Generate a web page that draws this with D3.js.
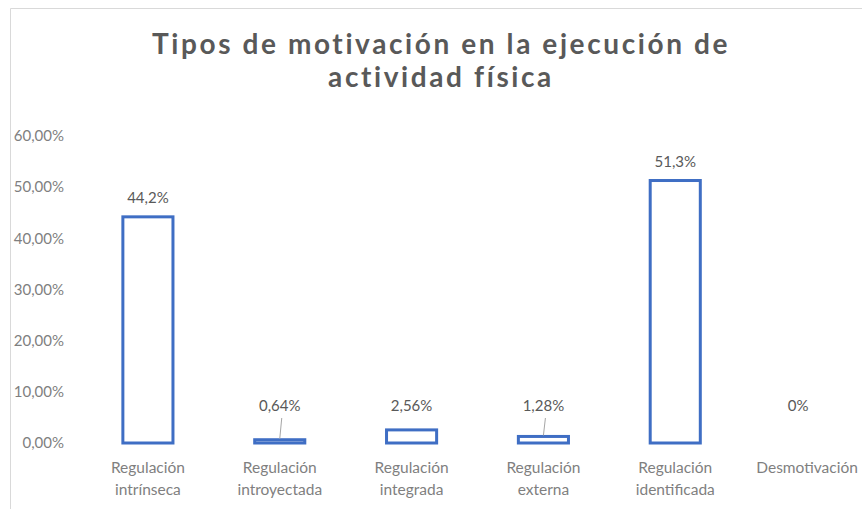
<!DOCTYPE html>
<html>
<head>
<meta charset="utf-8">
<script src="https://cdn.jsdelivr.net/npm/d3@7"></script>
<style>
  body { margin: 0; background: #fff; }
  svg { display: block; }
</style>
</head>
<body>
<div id="chart"></div>
<script>
// categories (two lines each) and values in percent
var categories = [
    ["Regulación", "intrínseca"],
    ["Regulación", "introyectada"],
    ["Regulación", "integrada"],
    ["Regulación", "externa"],
    ["Regulación", "identificada"],
    ["Desmotivación"]
];
var values = [44.2, 0.64, 2.56, 1.28, 51.3, 0];
var valueLabels = ["44,2%", "0,64%", "2,56%", "1,28%", "51,3%", "0%"];
var tickValues = [0, 10, 20, 30, 40, 50, 60];
var tickLabels = ["0,00%", "10,00%", "20,00%", "30,00%", "40,00%", "50,00%", "60,00%"];
var titleLines = ["Tipos de motivación en la ejecución de", "actividad física"];

var width = 862, height = 509;
var margin = { top: 136, right: -11, bottom: 65, left: 82 };

var svg = d3.select('#chart').append('svg')
    .attr('width', width)
    .attr('height', height);

// chart frame (cropped at right and bottom)
svg.append('path')
    .attr('d', 'M10.5,' + height + 'V8.5H' + width)
    .attr('fill', 'none')
    .attr('stroke', '#d9d9d9')
    .attr('stroke-width', 1);

// title
svg.append('text')
    .attr('text-anchor', 'middle')
    .attr('font-family', 'Lato, sans-serif')
    .attr('font-weight', 'bold')
    .attr('font-size', 28)
    .attr('letter-spacing', 2.6)
    .attr('fill', '#595959')
    .selectAll('tspan')
    .data(titleLines)
    .enter().append('tspan')
    .attr('x', 441)
    .attr('y', function (d, i) { return 54 + i * 33; })
    .text(function (d) { return d; });

var xScale = d3.scaleBand()
    .domain(d3.range(categories.length))
    .range([margin.left, width - margin.right])
    .paddingInner(0.62)
    .paddingOuter(0.31);

var yScale = d3.scaleLinear()
    .domain([0, 60])
    .range([height - margin.bottom - 1, margin.top]);

// y axis
var yAxis = d3.axisLeft(yScale)
    .tickValues(tickValues)
    .tickSize(0)
    .tickPadding(0)
    .tickFormat(function (d, i) { return tickLabels[i]; });

var gy = svg.append('g')
    .attr('transform', 'translate(64,0)')
    .call(yAxis);
gy.select('.domain').remove();
gy.selectAll('text')
    .attr('font-family', 'Lato, sans-serif')
    .attr('font-size', 15)
    .attr('fill', '#7f7f7f');

// x axis (labels only)
var xAxis = d3.axisBottom(xScale)
    .tickSize(0)
    .tickFormat('');
var gx = svg.append('g')
    .attr('transform', 'translate(0,' + (height - margin.bottom) + ')')
    .call(xAxis);
gx.select('.domain').remove();
gx.selectAll('.tick').each(function (d) {
    var t = d3.select(this).append('text')
        .attr('text-anchor', 'middle')
        .attr('font-family', 'Lato, sans-serif')
        .attr('font-size', 15.5)
        .attr('fill', '#7f7f7f');
    categories[d].forEach(function (line, i) {
        t.append('tspan')
            .attr('x', 0)
            .attr('y', 29 + i * 22)
            .text(line);
    });
});

// bars
svg.append('g')
    .selectAll('rect')
    .data(values)
    .enter().append('rect')
    .filter(function (d) { return d > 0; })
    .attr('x', function (d, i) { return xScale(i); })
    .attr('y', function (d) { return yScale(d); })
    .attr('width', xScale.bandwidth())
    .attr('height', function (d) { return yScale(0) - yScale(d); })
    .attr('fill', '#fff')
    .attr('stroke', '#3f6ec4')
    .attr('stroke-width', 3);

// data labels; small bars get the label lifted with a leader line
var minLabelY = yScale(0) - 32;
var labels = svg.append('g');
values.forEach(function (v, i) {
    var cx = xScale(i) + xScale.bandwidth() / 2;
    var top = yScale(v);
    var ly = Math.min(top - 14, minLabelY);
    labels.append('text')
        .attr('x', cx + (i === 5 ? -9 : 0))
        .attr('y', ly)
        .attr('text-anchor', 'middle')
        .attr('font-family', 'Lato, sans-serif')
        .attr('font-size', 15)
        .attr('fill', '#595959')
        .text(valueLabels[i]);
    if (v > 0 && top - ly > 25) {
        labels.append('line')
            .attr('x1', cx + 2)
            .attr('y1', ly + 7)
            .attr('x2', cx)
            .attr('y2', top - 1)
            .attr('stroke', '#a6a6a6')
            .attr('stroke-width', 1);
    }
});
</script>
</body>
</html>
